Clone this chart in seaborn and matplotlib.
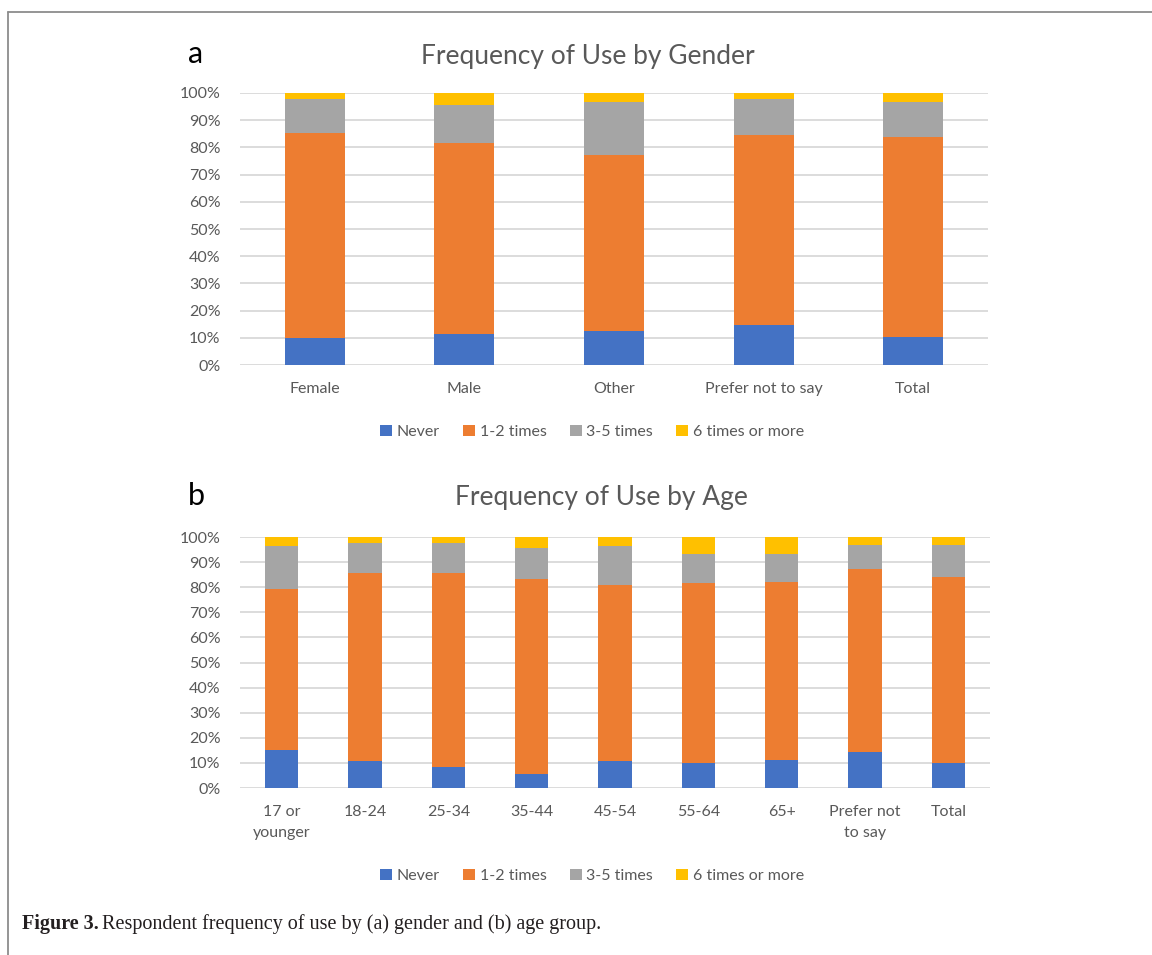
import matplotlib
matplotlib.use("Agg")
import matplotlib.pyplot as plt
import seaborn as sns
import numpy as np
from matplotlib.lines import Line2D
from matplotlib.patches import Patch

# ---------------- data ----------------
series = ["Never", "1-2 times", "3-5 times", "6 times or more"]
colors = ["#4472C4", "#ED7D31", "#A5A5A5", "#FFC000"]

gender_cats = ["Female", "Male", "Other", "Prefer not to say", "Total"]
gender_never = [10.0, 11.4, 12.5, 14.7, 10.2]
gender_12 = [75.3, 70.4, 64.8, 70.0, 73.5]
gender_35 = [12.5, 13.7, 19.3, 13.1, 13.0]
gender_6p = [2.2, 4.5, 3.4, 2.2, 3.3]

age_cats = ["17 or\nyounger", "18-24", "25-34", "35-44", "45-54", "55-64",
            "65+", "Prefer not\nto say", "Total"]
age_never = [15.0, 10.6, 8.2, 5.6, 10.8, 10.1, 11.3, 14.3, 10.1]
age_12 = [64.2, 75.2, 77.6, 77.8, 70.2, 71.4, 70.9, 72.8, 74.0]
age_35 = [17.1, 11.7, 11.7, 12.2, 15.3, 11.6, 10.9, 9.7, 12.7]
age_6p = [3.7, 2.5, 2.5, 4.4, 3.7, 6.9, 6.9, 3.2, 3.2]

yticks = list(range(0, 101, 10))

# ---------------- style ----------------
sns.set_theme(style="white")
plt.rcParams["font.family"] = ["Lato", "DejaVu Sans"]
TXT = "#595959"
W, H = 1152, 955

fig = plt.figure(figsize=(W / 100, H / 100), dpi=100)


def fx(px):
    return px / W


def fy(py):
    return 1 - py / H


def stacked(ax, cats, layers):
    cum = np.cumsum(np.array(layers, dtype=float), axis=0)
    for i in reversed(range(len(layers))):
        sns.barplot(x=cats, y=cum[i], order=cats, color=colors[i], width=0.4,
                    saturation=1, errorbar=None, linewidth=0, ax=ax)
    ax.set_ylim(0, 100)
    ax.set_xlim(-0.5, len(cats) - 0.5)
    ax.set_yticks(yticks)
    ax.set_yticklabels([f"{v}%" for v in yticks])
    ax.yaxis.grid(True, color="#D9D9D9", lw=1.3)
    ax.xaxis.grid(False)
    ax.set_axisbelow(True)
    for s in ax.spines.values():
        s.set_visible(False)
    ax.tick_params(axis="both", length=0, colors=TXT, labelsize=11.5)
    ax.tick_params(axis="x", pad=12)
    ax.tick_params(axis="y", pad=14)
    ax.set_xlabel("")
    ax.set_ylabel("")
    for lab in ax.get_xticklabels():
        lab.set_linespacing(1.65)
        lab.set_va("top")


ax1 = fig.add_axes([fx(240), fy(365), fx(988) - fx(240), fy(93) - fy(365)])
stacked(ax1, gender_cats, [gender_never, gender_12, gender_35, gender_6p])

ax2 = fig.add_axes([fx(240), fy(788), fx(990) - fx(240), fy(537) - fy(788)])
stacked(ax2, age_cats, [age_never, age_12, age_35, age_6p])

# titles and panel letters
fig.text(fx(588), fy(64), "Frequency of Use by Gender", ha="center",
         va="baseline", fontsize=19, color=TXT)
fig.text(fx(601), fy(505), "Frequency of Use by Age", ha="center",
         va="baseline", fontsize=19, color=TXT)
fig.text(fx(188), fy(63), "a", ha="left", va="baseline", fontsize=22,
         color="black")
fig.text(fx(188), fy(505), "b", ha="left", va="baseline", fontsize=22,
         color="black")

# legends
handles = [Patch(facecolor=c, edgecolor="none", label=s)
           for c, s in zip(colors, series)]
for ly in (432, 876):
    leg = fig.legend(handles=handles, loc="center",
                     bbox_to_anchor=(fx(592), fy(ly)), ncol=4, frameon=False,
                     handlelength=0.75, handleheight=0.75, handletextpad=0.3,
                     columnspacing=1.45, fontsize=11.5)
    for t in leg.get_texts():
        t.set_color(TXT)

# border of the figure panel
fig.add_artist(Line2D([fx(8), 1], [fy(12), fy(12)], color="#8C8C8C", lw=1.3,
                      transform=fig.transFigure))
fig.add_artist(Line2D([fx(8), fx(8)], [fy(12), 0], color="#8C8C8C", lw=1.3,
                      transform=fig.transFigure))

# caption
cap_font = ["Liberation Serif", "DejaVu Serif"]
t1 = fig.text(fx(22), fy(924), "Figure 3.", fontweight="bold", family=cap_font,
              fontsize=14.5, va="center", ha="left", color="#231F20")
fig.canvas.draw()
bb = t1.get_window_extent()
fig.text((bb.x1 + 3) / W, fy(924),
         "Respondent frequency of use by (a) gender and (b) age group.",
         family=cap_font, fontsize=14.5, va="center", ha="left", color="#231F20")

fig.savefig("out.png", dpi=100, facecolor="white")
